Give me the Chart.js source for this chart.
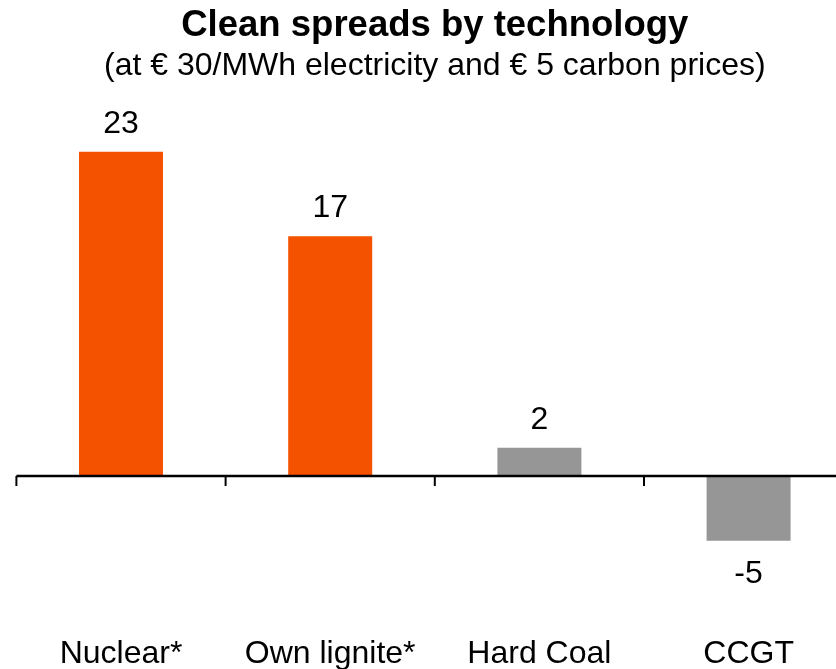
<!DOCTYPE html>
<html>
<head>
<meta charset="utf-8">
<script src="https://cdn.jsdelivr.net/npm/chart.js@4/dist/chart.umd.min.js"></script>
<style>
  html, body { margin: 0; padding: 0; background: #fff; overflow: hidden; }
  #wrap { width: 870px; height: 669px; }
</style>
</head>
<body>
<div id="wrap"><canvas id="myChart" width="870" height="669"></canvas></div>
<script>
// chart data
const categories = ['Nuclear*', 'Own lignite*', 'Hard Coal', 'CCGT'];
const spreads = [23, 17, 2, -4.6];
const barColors = ['#F55200', '#F55200', '#969696', '#969696'];

const titleText = 'Clean spreads by technology';
const subtitleText = '(at \u20AC 30/MWh electricity and \u20AC 5 carbon prices)';

const fontFamily = "'Liberation Sans', Arial, sans-serif";

// zero line, category ticks and category names, placed with the scales
const zeroAxis = {
  id: 'zeroAxis',
  afterDatasetsDraw(chart) {
    const ctx = chart.ctx;
    const x = chart.scales.x;
    const y0 = chart.scales.y.getPixelForValue(0);
    ctx.save();
    ctx.strokeStyle = '#000';
    ctx.lineWidth = 2.5;
    ctx.beginPath();
    ctx.moveTo(chart.chartArea.left, y0);
    ctx.lineTo(chart.chartArea.right, y0);
    ctx.stroke();
    ctx.lineWidth = 2;
    for (let i = 0; i <= categories.length; i++) {
      const px = x.getPixelForValue(i - 0.5);
      ctx.beginPath();
      ctx.moveTo(px, y0);
      ctx.lineTo(px, y0 + 10);
      ctx.stroke();
    }
    // category names along the bottom
    ctx.font = '32px ' + fontFamily;
    ctx.fillStyle = '#000';
    ctx.textAlign = 'center';
    ctx.textBaseline = 'alphabetic';
    categories.forEach((c, i) => {
      ctx.fillText(c, x.getPixelForValue(i), y0 + 187);
    });
    ctx.restore();
  }
};

// value labels above / below the bars
const valueLabels = {
  id: 'valueLabels',
  afterDatasetsDraw(chart) {
    const ctx = chart.ctx;
    const meta = chart.getDatasetMeta(0);
    ctx.save();
    ctx.font = '32px ' + fontFamily;
    ctx.fillStyle = '#000';
    ctx.textAlign = 'center';
    ctx.textBaseline = 'alphabetic';
    meta.data.forEach((bar, i) => {
      const v = spreads[i];
      const label = String(Math.round(v));
      if (v >= 0) {
        ctx.fillText(label, bar.x, bar.y - 19);
      } else {
        ctx.fillText(label, bar.x, bar.y + 42);
      }
    });
    ctx.restore();
  }
};

const ctx = document.getElementById('myChart').getContext('2d');
const myChart = new Chart(ctx, {
  type: 'bar',
  data: {
    labels: categories,
    datasets: [{
      data: spreads,
      backgroundColor: barColors,
      borderWidth: 0,
      barPercentage: 0.4015,
      categoryPercentage: 1
    }]
  },
  options: {
    responsive: false,
    animation: false,
    devicePixelRatio: 1,
    layout: { padding: { left: 16.4, right: 16.8, top: 0, bottom: 0 } },
    plugins: {
      legend: { display: false },
      tooltip: { enabled: false },
      title: {
        display: true,
        text: titleText,
        color: '#000',
        font: { family: fontFamily, size: 36.5, weight: 'bold', lineHeight: 1.15 },
        padding: { top: 5.35, bottom: 0 }
      },
      subtitle: {
        display: true,
        text: subtitleText,
        color: '#000',
        font: { family: fontFamily, size: 32, lineHeight: 1.2 },
        padding: { top: 0, bottom: 10 }
      }
    },
    scales: {
      x: {
        display: false
      },
      y: {
        display: false,
        min: -13.69,
        max: 26.97
      }
    }
  },
  plugins: [zeroAxis, valueLabels]
});
</script>
</body>
</html>
